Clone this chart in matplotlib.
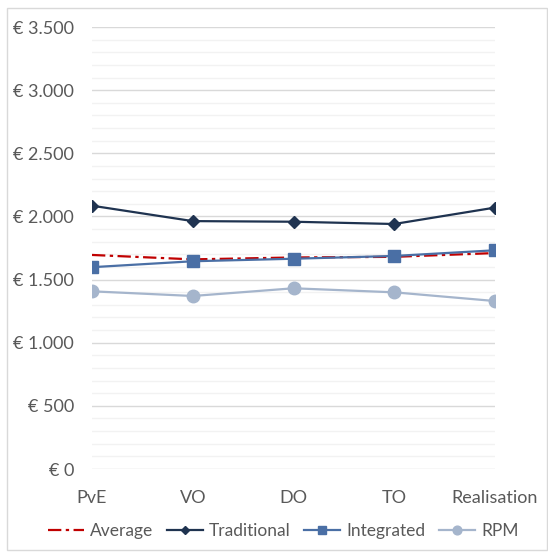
import numpy as np
import matplotlib.pyplot as plt
from matplotlib.patches import Rectangle
from matplotlib.ticker import MultipleLocator, FuncFormatter

plt.rcParams['font.family'] = ['Lato', 'DejaVu Sans']

phases = ['PvE', 'VO', 'DO', 'TO', 'Realisation']
average = [1695, 1660, 1675, 1680, 1710]
traditional = [2085, 1963, 1958, 1940, 2070]
integrated = [1598, 1645, 1665, 1687, 1732]
rpm = [1407, 1370, 1431, 1399, 1330]

fig = plt.figure(figsize=(5.48, 5.52), dpi=100)
ax = fig.add_axes([92/548, 1-469/552, (495-92)/548, (469-27)/552])

x = np.arange(len(phases))
ax.plot(x, average, color='#c00000', lw=1.6, ls=(0, (6, 2, 1.5, 2)), label='Average', zorder=3)
ax.plot(x, traditional, color='#1f3350', lw=1.6, marker='D', ms=6.5, label='Traditional', zorder=4)
ax.plot(x, integrated, color='#4a6fa5', lw=1.6, marker='s', ms=9, label='Integrated', zorder=3)
ax.plot(x, rpm, color='#a5b5cc', lw=1.6, marker='o', ms=9, label='RPM', zorder=3)

ax.set_xlim(0, 4)
ax.set_ylim(0, 3500)
ax.yaxis.set_major_locator(MultipleLocator(500))
ax.yaxis.set_minor_locator(MultipleLocator(100))
ax.yaxis.set_major_formatter(FuncFormatter(lambda v, p: '€ ' + f'{int(v):,}'.replace(',', '.')))
ax.grid(which='major', axis='y', color='#d9d9d9', lw=1)
ax.grid(which='minor', axis='y', color='#f2f2f2', lw=1)
ax.set_axisbelow(True)
for s in ax.spines.values():
    s.set_visible(False)
ax.set_xticks(x)
ax.set_xticklabels(phases)
ax.tick_params(axis='both', which='both', length=0, labelsize=13, colors='#595959')
ax.tick_params(axis='x', pad=15)
ax.tick_params(axis='y', pad=13)

leg = fig.legend(loc='center', bbox_to_anchor=(0.517, 1-531/552), ncol=4, frameon=False,
                 fontsize=12.5, handlelength=2.1, columnspacing=0.75, handletextpad=0.35,
                 markerscale=0.7)
for t in leg.get_texts():
    t.set_color('#595959')

fig.patches.append(Rectangle((7/548, 1-550/552), 540/548, 542/552, transform=fig.transFigure,
                             fill=False, edgecolor='#d9d9d9', lw=1))

fig.savefig('out.png', dpi=100)
